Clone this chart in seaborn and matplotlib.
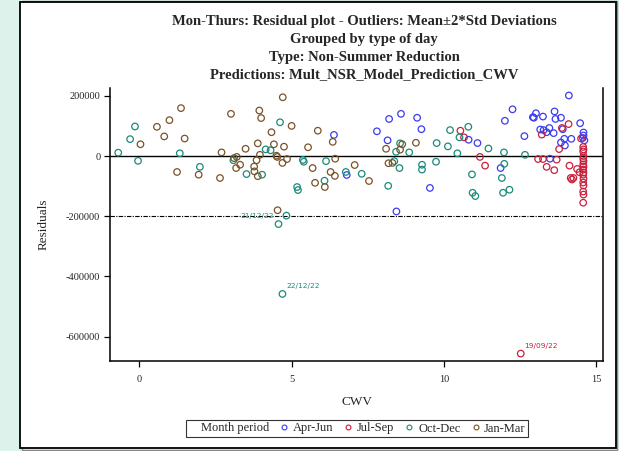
import pandas as pd
import matplotlib.pyplot as plt
import matplotlib.patches as mpatches
from matplotlib.lines import Line2D
from matplotlib.markers import MarkerStyle
import seaborn as sns

# legend order of the month groups and their colours
periods = ["Apr-Jun", "Jul-Sep", "Oct-Dec", "Jan-Mar"]
period_colors = ["#3b3bef", "#c8203c", "#1a8a78", "#7a5228"]

# values (CWV, residual)
apr_cwv = [6.39, 6.81, 7.80, 8.20, 8.15, 8.59, 9.12, 9.26, 8.44, 9.54,
           10.81, 11.10, 12.00, 12.25, 11.86, 12.64, 12.92, 12.95, 13.02, 13.25,
           13.16, 13.27, 13.37, 13.46, 13.48, 14.10, 13.63, 13.66, 13.84, 13.60,
           13.90, 13.84, 13.95, 13.97, 14.18, 14.47, 14.58, 14.58, 14.56, 14.61]
apr_res = [70000, -63000, 82000, 123000, 52000, 140000, 127000, 89000, -184000, -106000,
           54000, 43000, 117000, 155000, -40000, 66000, 129000, 127000, 142000, 131000,
           88000, 86000, 79000, 93000, -9000, 201000, 148000, 123000, 127000, 76000,
           89000, 45000, 57000, 35000, 57000, 109000, 78000, 68000, 60000, 52000]

jul_cwv = [10.54, 10.66, 11.18, 11.35, 13.21, 13.09, 13.25, 13.37, 13.70, 13.62,
           13.78, 13.87, 14.09, 14.12, 14.37, 14.45, 14.25, 14.20, 14.16, 12.52,
           14.50, 14.57, 14.58, 14.57, 14.58, 14.57, 14.58, 14.57, 14.58, 14.57,
           14.58, 14.57, 14.58, 14.57, 14.58, 14.57, 14.58, 14.57]
jul_res = [84000, 62000, -3000, -32000, 71000, -10000, -10000, -36000, -12000, -47000,
           23000, 93000, 106000, -32000, -43000, -54000, -73000, -78000, -73000, -656000,
           58000, 30000, 22000, 15000, 0, -8000, -17000, -28000, -35000, -45000,
           -55000, -62000, -75000, -88000, -98000, -118000, -128000, -155000]

oct_cwv = [-0.69, -0.30, -0.14, -0.04, 1.33, 1.99, 3.09, 3.52, 4.03, 4.15,
           4.31, 4.62, 5.18, 5.21, 4.83, 4.57, 4.70, 5.37, 5.40, 6.13,
           6.08, 6.78, 7.30, 8.17, 8.43, 8.56, 8.37, 8.54, 8.86, 9.28,
           9.28, 9.76, 9.74, 10.13, 10.20, 10.44, 10.51, 10.80, 10.92, 10.94,
           11.03, 11.46, 11.97, 11.98, 11.90, 11.94, 12.15, 12.66]
oct_res = [11000, 56000, 98000, -16000, 9000, -36000, -14000, -60000, -62000, 22000,
           19000, 112000, -103000, -113000, -198000, -226000, -458000, -13000, -19000, -17000,
           -82000, -53000, -59000, -99000, 14000, 42000, -17000, -40000, 12000, -29000,
           -45000, 43000, -19000, 32000, 86000, 9000, 62000, 97000, -61000, -122000,
           -133000, 25000, 12000, -26000, -73000, -122000, -112000, 4000]

jan_cwv = [0.04, 0.58, 0.82, 0.99, 1.37, 1.49, 1.24, 1.95, 3.01, 2.70,
           2.65, 3.11, 3.20, 3.18, 3.31, 3.49, 3.77, 3.78, 3.89, 3.85,
           3.96, 3.89, 4.42, 4.34, 3.94, 4.00, 4.71, 5.00, 4.75, 4.50,
           4.53, 4.85, 4.70, 4.54, 5.86, 6.35, 5.54, 5.69, 6.43, 6.28,
           6.42, 6.09, 5.77, 7.07, 7.54, 8.10, 8.18, 8.31, 8.63, 8.56, 9.08]
jan_res = [39000, 97000, 65000, 119000, 159000, 58000, -53000, -62000, 140000, 12000,
           -73000, -7000, -3000, -40000, -29000, 24000, -35000, -51000, -67000, -14000,
           4000, 42000, 39000, 79000, 151000, 126000, 195000, 100000, 31000, 1000,
           -3000, -10000, -23000, -180000, 84000, 47000, 29000, -40000, -9000, -53000,
           -66000, -103000, -89000, -30000, -83000, 24000, -24000, -23000, 39000, 21000, 44000]

# outliers (below mean - 2 std) and their date labels
outlier_cwv = [4.57, 4.70, 12.52]
outlier_res = [-226000, -458000, -656000]
outlier_dates = ["21/12/22", "22/12/22", "19/09/22"]
outlier_period = ["Oct-Dec", "Oct-Dec", "Jul-Sep"]

mean_line = 0
lower_limit = -200000

x_ticks = [0, 5, 10, 15]
y_ticks = [-600000, -400000, -200000, 0, 200000]

title_lines = ["Mon-Thurs: Residual plot - Outliers: Mean\u00b12*Std Deviations",
               "Grouped by type of day",
               "Type: Non-Summer Reduction",
               "Predictions: Mult_NSR_Model_Prediction_CWV"]

df = pd.concat([
    pd.DataFrame({"CWV": apr_cwv, "Residuals": apr_res, "period": "Apr-Jun"}),
    pd.DataFrame({"CWV": jul_cwv, "Residuals": jul_res, "period": "Jul-Sep"}),
    pd.DataFrame({"CWV": oct_cwv, "Residuals": oct_res, "period": "Oct-Dec"}),
    pd.DataFrame({"CWV": jan_cwv, "Residuals": jan_res, "period": "Jan-Mar"}),
], ignore_index=True)

sns.set_style("ticks")
plt.rcParams["font.family"] = ["Liberation Serif", "DejaVu Serif"]
plt.rcParams["axes.unicode_minus"] = False

palette = dict(zip(periods, period_colors))

fig = plt.figure(figsize=(6.19, 4.51), dpi=100, facecolor="#dcf2ea")
W, H = 619.0, 451.0

# white panel with dark border
fig.add_artist(mpatches.Rectangle((21.5 / W, 1 - 449.5 / H), (617 - 21.5) / W, 448.5 / H,
                                  transform=fig.transFigure, facecolor="none",
                                  edgecolor="#888888", lw=1.0, zorder=-2))
fig.add_artist(mpatches.Rectangle((19.5 / W, 1 - 448 / H), (615.5 - 19.5) / W, 446.5 / H,
                                  transform=fig.transFigure, facecolor="white",
                                  edgecolor="black", lw=1.3, zorder=-1))

ax = fig.add_axes([110 / W, 1 - 361 / H, (603 - 110) / W, (361 - 88) / H])
ax.set_facecolor("none")

sns.scatterplot(data=df, x="CWV", y="Residuals", hue="period", hue_order=periods,
                palette=palette, marker=MarkerStyle("o", fillstyle="none"),
                s=22, linewidth=0.9, legend=False, ax=ax, zorder=3)
# make the circles open with coloured rims
pts = ax.collections[0]
cols = pts.get_facecolors()
if len(cols):
    pts.set_edgecolors(cols)
pts.set_facecolors("none")

ax.axhline(mean_line, color="black", lw=1.0, zorder=2)
ax.axhline(lower_limit, color="black", lw=0.8, dashes=(4, 1.2, 1, 1.2), zorder=2)

for cx, cy, lab, per in zip(outlier_cwv, outlier_res, outlier_dates, outlier_period):
    if lab == "21/12/22":
        off, ha = (-3, 6), "right"
    else:
        off, ha = (2.5, 5.5), "left"
    ax.annotate(lab, (cx, cy), xytext=off, textcoords="offset points",
                ha=ha, va="center", fontsize=5.3, color=palette[per],
                family=["DejaVu Sans"], zorder=4)

ax.set_xlim(-0.96, 15.22)
ax.set_ylim(-680600, 225800)
ax.set_xticks(x_ticks)
ax.set_yticks(y_ticks)
ax.set_yticklabels([str(v) for v in y_ticks])
ax.tick_params(axis="both", direction="out", length=4, width=0.9, labelsize=7.5,
               color="black", pad=3)
ax.tick_params(axis="x", pad=6)

for side in ["left", "bottom", "right"]:
    ax.spines[side].set_visible(True)
    ax.spines[side].set_color("black")
    ax.spines[side].set_linewidth(1.1)
ax.spines["top"].set_visible(False)

ax.set_xlabel("CWV", fontsize=9.5, labelpad=9)
ax.set_ylabel("Residuals", fontsize=9.5, labelpad=12)

for i, line in enumerate(title_lines):
    fig.text(364 / W, 1 - (22 + 17.7 * i) / H, line, ha="center", va="center",
             fontsize=10.5, fontweight="bold")

handles = [Line2D([], [], linestyle="none")]
labels = ["Month period"]
for p in periods:
    handles.append(Line2D([], [], linestyle="none", marker="o", markersize=3.5,
                          markerfacecolor="none", markeredgecolor=palette[p],
                          markeredgewidth=0.8))
    labels.append(p)
leg = fig.legend(handles, labels, loc="center", bbox_to_anchor=(357 / W, 1 - 428.5 / H),
                 ncol=5, frameon=True, fancybox=False, fontsize=9,
                 handlelength=0.6, handletextpad=0.4, columnspacing=0.9,
                 borderpad=0.2, borderaxespad=0)
leg.get_frame().set_edgecolor("black")
leg.get_frame().set_linewidth(0.8)

fig.savefig("out.png", dpi=100, facecolor=fig.get_facecolor())
